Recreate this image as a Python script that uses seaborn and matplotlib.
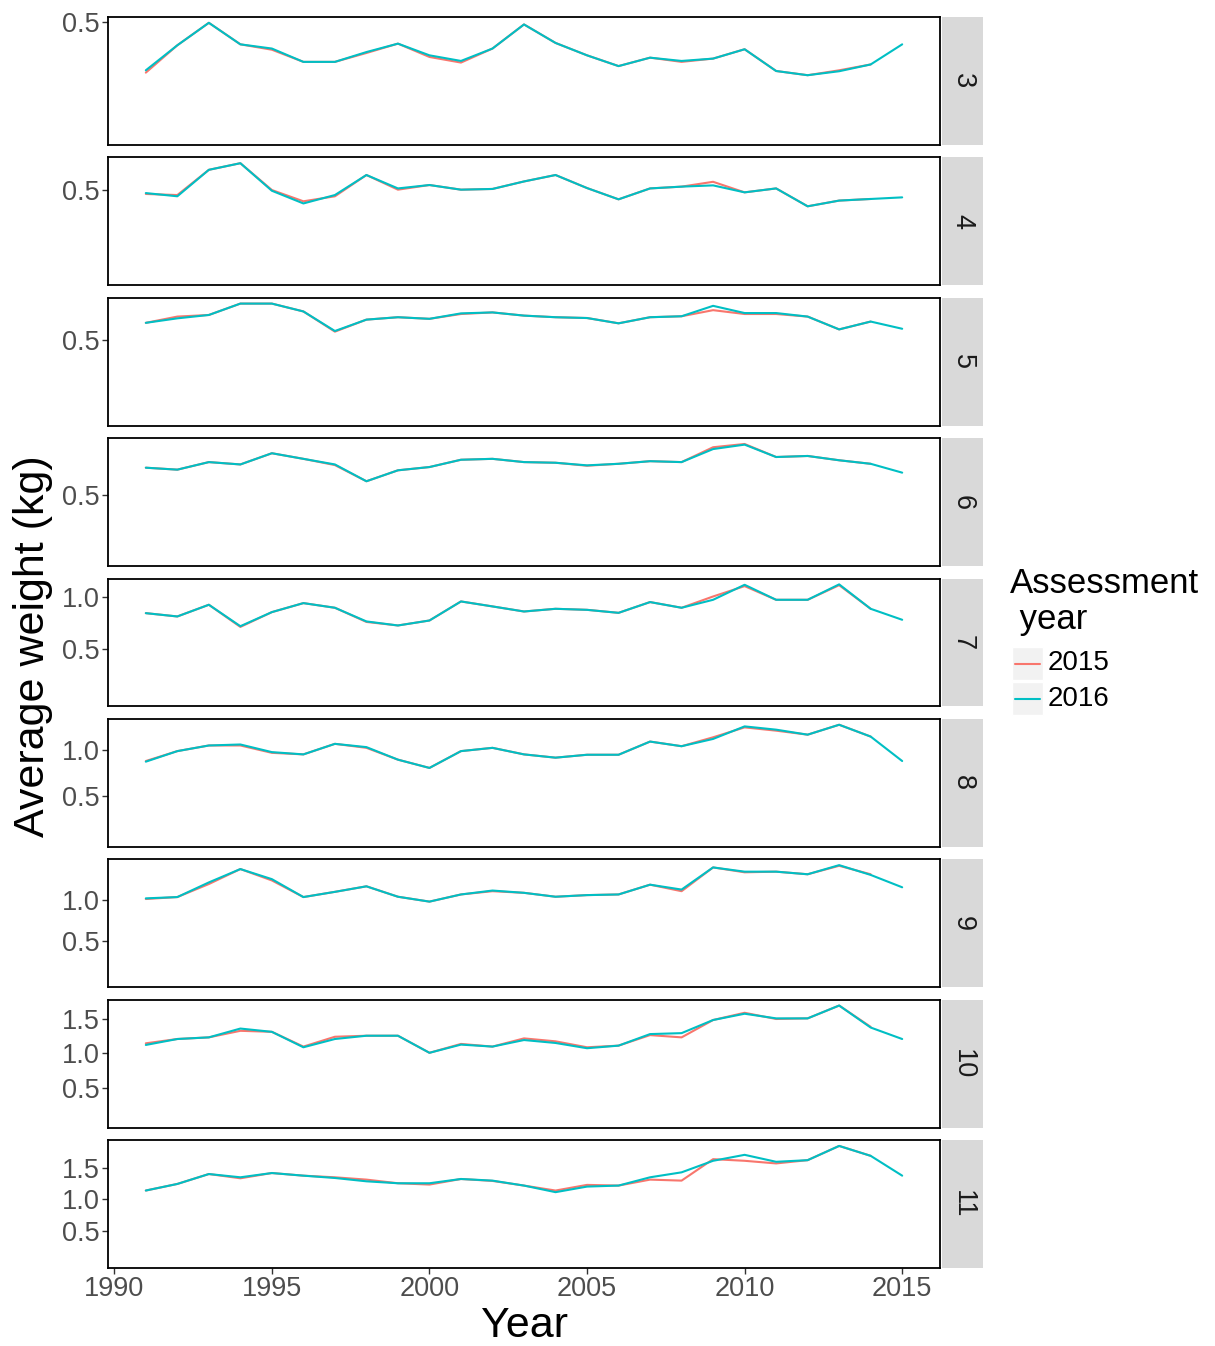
import numpy as np
import pandas as pd
import matplotlib
matplotlib.use("Agg")
import matplotlib.pyplot as plt
from matplotlib.patches import Rectangle
from matplotlib.lines import Line2D
import seaborn as sns

# ---------------- data ----------------
years = list(range(1991, 2016))
ages = [3, 4, 5, 6, 7, 8, 9, 10, 11]
assessment_years = ["2015", "2016"]
colors = {"2015": "#F8766D", "2016": "#00BFC4"}

w2016_age3 = [0.294, 0.401, 0.497, 0.405, 0.387, 0.330, 0.330, 0.372, 0.408, 0.358, 0.334, 0.387, 0.490,
              0.411, 0.358, 0.312, 0.348, 0.334, 0.344, 0.384, 0.291, 0.273, 0.290, 0.319, 0.405]
w2015_age3 = [0.284, 0.401, 0.497, 0.405, 0.382, 0.330, 0.330, 0.368, 0.408, 0.351, 0.327, 0.387, 0.490,
              0.411, 0.358, 0.312, 0.348, 0.330, 0.344, 0.384, 0.291, 0.273, 0.294, 0.319]

w2016_age4 = [0.483, 0.465, 0.613, 0.650, 0.496, 0.425, 0.472, 0.584, 0.509, 0.528, 0.502, 0.506, 0.548,
              0.584, 0.511, 0.448, 0.509, 0.519, 0.526, 0.487, 0.509, 0.409, 0.441, 0.450, 0.459]
w2015_age4 = [0.478, 0.472, 0.613, 0.650, 0.500, 0.437, 0.465, 0.584, 0.502, 0.528, 0.502, 0.506, 0.548,
              0.584, 0.511, 0.448, 0.509, 0.519, 0.546, 0.487, 0.509, 0.409, 0.441, 0.450]

w2016_age5 = [0.605, 0.633, 0.654, 0.725, 0.725, 0.676, 0.554, 0.625, 0.640, 0.630, 0.664, 0.670, 0.650,
              0.640, 0.635, 0.602, 0.640, 0.646, 0.711, 0.666, 0.666, 0.644, 0.564, 0.613, 0.568]
w2015_age5 = [0.605, 0.644, 0.654, 0.725, 0.725, 0.676, 0.550, 0.625, 0.640, 0.630, 0.660, 0.670, 0.650,
              0.640, 0.635, 0.602, 0.640, 0.646, 0.684, 0.660, 0.660, 0.644, 0.564, 0.613]

w2016_age6 = [0.710, 0.695, 0.753, 0.735, 0.821, 0.778, 0.735, 0.606, 0.690, 0.715, 0.771, 0.778, 0.753,
              0.748, 0.728, 0.740, 0.760, 0.753, 0.853, 0.887, 0.792, 0.800, 0.767, 0.740, 0.672]
w2015_age6 = [0.710, 0.695, 0.753, 0.735, 0.821, 0.778, 0.730, 0.606, 0.690, 0.715, 0.771, 0.778, 0.753,
              0.748, 0.725, 0.740, 0.760, 0.753, 0.867, 0.892, 0.792, 0.800, 0.767, 0.740]

w2016_age7 = [0.845, 0.813, 0.926, 0.719, 0.855, 0.942, 0.897, 0.765, 0.726, 0.774, 0.958, 0.910, 0.861,
              0.887, 0.877, 0.848, 0.952, 0.897, 0.974, 1.119, 0.974, 0.974, 1.123, 0.887, 0.781]
w2015_age7 = [0.845, 0.813, 0.926, 0.712, 0.855, 0.942, 0.897, 0.760, 0.726, 0.774, 0.958, 0.910, 0.861,
              0.887, 0.877, 0.848, 0.952, 0.897, 1.006, 1.106, 0.974, 0.974, 1.115, 0.887]

w2016_age8 = [0.873, 0.989, 1.051, 1.062, 0.978, 0.953, 1.069, 1.033, 0.895, 0.804, 0.989, 1.025, 0.953,
              0.917, 0.949, 0.949, 1.094, 1.043, 1.123, 1.261, 1.225, 1.170, 1.279, 1.149, 0.880]
w2015_age8 = [0.880, 0.989, 1.051, 1.051, 0.970, 0.953, 1.069, 1.025, 0.895, 0.804, 0.989, 1.025, 0.953,
              0.917, 0.949, 0.949, 1.094, 1.043, 1.141, 1.250, 1.214, 1.170, 1.279, 1.149]

w2016_age9 = [1.020, 1.036, 1.216, 1.380, 1.256, 1.036, 1.100, 1.168, 1.040, 0.980, 1.068, 1.116, 1.088,
              1.040, 1.060, 1.068, 1.188, 1.128, 1.400, 1.348, 1.348, 1.316, 1.428, 1.308, 1.156]
w2015_age9 = [1.012, 1.036, 1.196, 1.380, 1.240, 1.036, 1.100, 1.168, 1.040, 0.980, 1.068, 1.108, 1.088,
              1.040, 1.060, 1.068, 1.188, 1.108, 1.400, 1.340, 1.348, 1.316, 1.420, 1.316]

w2016_age10 = [1.125, 1.212, 1.236, 1.365, 1.317, 1.091, 1.212, 1.260, 1.260, 1.010, 1.130, 1.101, 1.197,
               1.154, 1.077, 1.115, 1.284, 1.298, 1.490, 1.582, 1.514, 1.514, 1.702, 1.380, 1.212]
w2015_age10 = [1.149, 1.212, 1.236, 1.332, 1.317, 1.101, 1.245, 1.260, 1.260, 1.010, 1.140, 1.101, 1.221,
               1.178, 1.091, 1.115, 1.269, 1.236, 1.490, 1.596, 1.505, 1.514, 1.702, 1.390]

w2016_age11 = [1.142, 1.247, 1.405, 1.353, 1.421, 1.379, 1.342, 1.289, 1.258, 1.258, 1.326, 1.300, 1.221,
               1.116, 1.205, 1.221, 1.353, 1.432, 1.616, 1.711, 1.600, 1.626, 1.853, 1.695, 1.379]
w2015_age11 = [1.142, 1.247, 1.405, 1.337, 1.421, 1.379, 1.353, 1.316, 1.258, 1.237, 1.326, 1.295, 1.221,
               1.142, 1.232, 1.221, 1.316, 1.300, 1.642, 1.616, 1.574, 1.626, 1.853, 1.695]

series_2016 = [w2016_age3, w2016_age4, w2016_age5, w2016_age6, w2016_age7,
               w2016_age8, w2016_age9, w2016_age10, w2016_age11]
series_2015 = [w2015_age3, w2015_age4, w2015_age5, w2015_age6, w2015_age7,
               w2015_age8, w2015_age9, w2015_age10, w2015_age11]

# ---------------- long table ----------------
rows = []
for age, s15, s16 in zip(ages, series_2015, series_2016):
    for yr, v in zip(years, s15):
        rows.append({"Age": age, "Year": yr, "Assessment": "2015", "Weight": v})
    for yr, v in zip(years, s16):
        rows.append({"Age": age, "Year": yr, "Assessment": "2016", "Weight": v})
df = pd.DataFrame(rows)

# ---------------- style ----------------
sns.set_theme(style="white")
plt.rcParams["font.family"] = ["Liberation Sans", "DejaVu Sans"]
plt.rcParams["text.color"] = "black"

W, H = 1215, 1346
fig = plt.figure(figsize=(W / 100, H / 100), dpi=100)

n = len(ages)
top_px, bot_px = 17, 1268
gap_px = 12.5
ph = (bot_px - top_px - gap_px * (n - 1)) / n
gs = fig.add_gridspec(n, 1, left=108 / W, right=940 / W,
                      top=1 - top_px / H, bottom=1 - bot_px / H,
                      hspace=gap_px / ph)

tick_color = "#4D4D4D"
xlo, xhi = years[0] - 0.05 * (years[-1] - years[0]), years[-1] + 0.05 * (years[-1] - years[0])

axes = []
for i, age in enumerate(ages):
    ax = fig.add_subplot(gs[i, 0])
    sub = df[df["Age"] == age]
    sns.lineplot(data=sub, x="Year", y="Weight", hue="Assessment",
                 hue_order=assessment_years, palette=colors,
                 linewidth=1.5, ax=ax, legend=False, estimator=None)
    M = sub["Weight"].max()
    ax.set_ylim(-0.05 * M, 1.05 * M)
    ax.set_xlim(xlo, xhi)
    yt = [t for t in [0.5, 1.0, 1.5] if t <= 1.05 * M]
    ax.set_yticks(yt)
    ax.set_yticklabels([f"{t:.1f}" for t in yt])
    ax.set_xticks([1990, 1995, 2000, 2005, 2010, 2015])
    ax.set_xlabel("")
    ax.set_ylabel("")
    ax.tick_params(axis="y", length=4, width=1, color="#333333", labelsize=19.5,
                   labelcolor=tick_color, pad=2, left=True)
    if i < n - 1:
        ax.tick_params(axis="x", bottom=False, labelbottom=False)
    else:
        ax.tick_params(axis="x", length=4, width=1, color="#333333", labelsize=19.5,
                       labelcolor=tick_color, pad=2, bottom=True)
    for sp in ax.spines.values():
        sp.set_visible(True)
        sp.set_color("black")
        sp.set_linewidth(1.3)
    ax.set_facecolor("white")
    axes.append(ax)

    # facet strip on the right
    pos = ax.get_position()
    fig.patches.append(Rectangle((942 / W, pos.y0), 41 / W, pos.height,
                                 transform=fig.transFigure, facecolor="#D9D9D9",
                                 edgecolor="none"))
    fig.text((942 + 20.5) / W, pos.y0 + pos.height / 2, str(age), rotation=-90,
             ha="center", va="center", fontsize=19.5, color="#1A1A1A")

# axis titles
fig.text(524 / W, 1 - 1326 / H, "Year", ha="center", va="center", fontsize=31, color="black")
fig.text(33 / W, 1 - 646 / H, "Average weight (kg)", ha="center", va="center",
         rotation=90, fontsize=31, color="black")

# legend
fig.text(1010 / W, 1 - 567 / H, "Assessment\n year", ha="left", va="top",
         fontsize=25, linespacing=1.12, color="black")
key_y = [647, 682]
for lab, ky in zip(assessment_years, key_y):
    fig.patches.append(Rectangle((1012 / W, 1 - (ky + 33) / H), 31 / W, 33 / H,
                                 transform=fig.transFigure, facecolor="#F2F2F2",
                                 edgecolor="white", linewidth=1))
    fig.lines.append(Line2D([1015 / W, 1040 / W], [1 - (ky + 16.5) / H] * 2,
                            transform=fig.transFigure, color=colors[lab], linewidth=1.5))
    fig.text(1048 / W, 1 - (ky + 16.5) / H, lab, ha="left", va="center", fontsize=20,
             color="black")

fig.savefig("out.png", dpi=100, facecolor="white")
